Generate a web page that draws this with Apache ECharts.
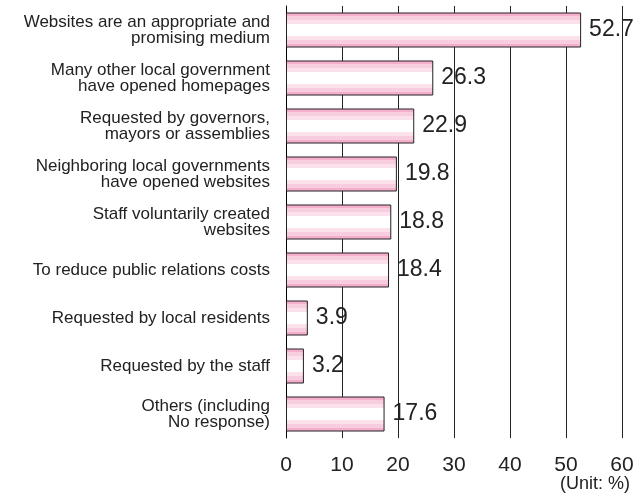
<!DOCTYPE html>
<html>
<head>
<meta charset="utf-8">
<script src="https://cdn.jsdelivr.net/npm/echarts@6/dist/echarts.min.js"></script>
<style>
  html, body { margin: 0; padding: 0; background: #fff; }
  #chart { width: 644px; height: 501px; }
</style>
</head>
<body>
<div id="chart"></div>
<script>
// Reasons for opening websites, share of respondents (%)
const categories = [
  'Websites are an appropriate and\npromising medium',
  'Many other local government\nhave opened homepages',
  'Requested by governors,\nmayors or assemblies',
  'Neighboring local governments\nhave opened websites',
  'Staff voluntarily created\nwebsites',
  'To reduce public relations costs',
  'Requested by local residents',
  'Requested by the staff',
  'Others (including\nNo response)'
];
const values = [52.7, 26.3, 22.9, 19.8, 18.8, 18.4, 3.9, 3.2, 17.6];
const tickLabels = ['0', '10', '20', '30', '40', '50', '60'];

const FONT = '"Liberation Sans", Arial, sans-serif';

// Horizontal pink/white banding inside each bar
const stripe = new echarts.graphic.LinearGradient(0, 0, 0, 1, [
  { offset: 0.00, color: '#f3afcc' },
  { offset: 0.11, color: '#f3afcc' },
  { offset: 0.11, color: '#f8cddf' },
  { offset: 0.21, color: '#f8cddf' },
  { offset: 0.21, color: '#fbe1ec' },
  { offset: 0.33, color: '#fbe1ec' },
  { offset: 0.33, color: '#ffffff' },
  { offset: 0.67, color: '#ffffff' },
  { offset: 0.67, color: '#fbe1ec' },
  { offset: 0.79, color: '#fbe1ec' },
  { offset: 0.79, color: '#f8cddf' },
  { offset: 0.89, color: '#f8cddf' },
  { offset: 0.89, color: '#f3afcc' },
  { offset: 1.00, color: '#f3afcc' }
]);

const chart = echarts.init(document.getElementById('chart'));
chart.setOption({
  animation: false,
  backgroundColor: '#fff',
  grid: { left: 286, right: 22, top: 6, bottom: 63, containLabel: false },
  xAxis: {
    type: 'value',
    min: 0, max: 60, interval: 10,
    axisLine: { show: false },
    axisTick: { show: false },
    splitLine: { show: true, lineStyle: { color: '#222', width: 1 } },
    axisLabel: {
      margin: 17,
      color: '#222', fontSize: 21, fontFamily: FONT,
      formatter: (v) => tickLabels[Math.round(v / 10)]
    }
  },
  yAxis: {
    type: 'category',
    inverse: true,
    data: categories,
    axisLine: { show: true, lineStyle: { color: '#000', width: 1 } },
    axisTick: { show: true, length: 0 },
    axisLabel: {
      margin: 16,
      color: '#222', fontSize: 17, lineHeight: 16, fontFamily: FONT, align: 'right'
    }
  },
  series: [{
    type: 'bar',
    data: values,
    barWidth: 35,
    itemStyle: { color: stripe, borderColor: '#222', borderWidth: 1 },
    label: {
      show: true, position: 'right', distance: 8,
      color: '#222', fontSize: 23, fontFamily: FONT,
      formatter: (p) => p.value.toFixed(1)
    }
  }],
  graphic: [{
    type: 'text',
    right: 14, top: 475,
    style: { text: '(Unit: %)', fill: '#222', fontSize: 18, fontFamily: FONT }
  }]
});
</script>
</body>
</html>
